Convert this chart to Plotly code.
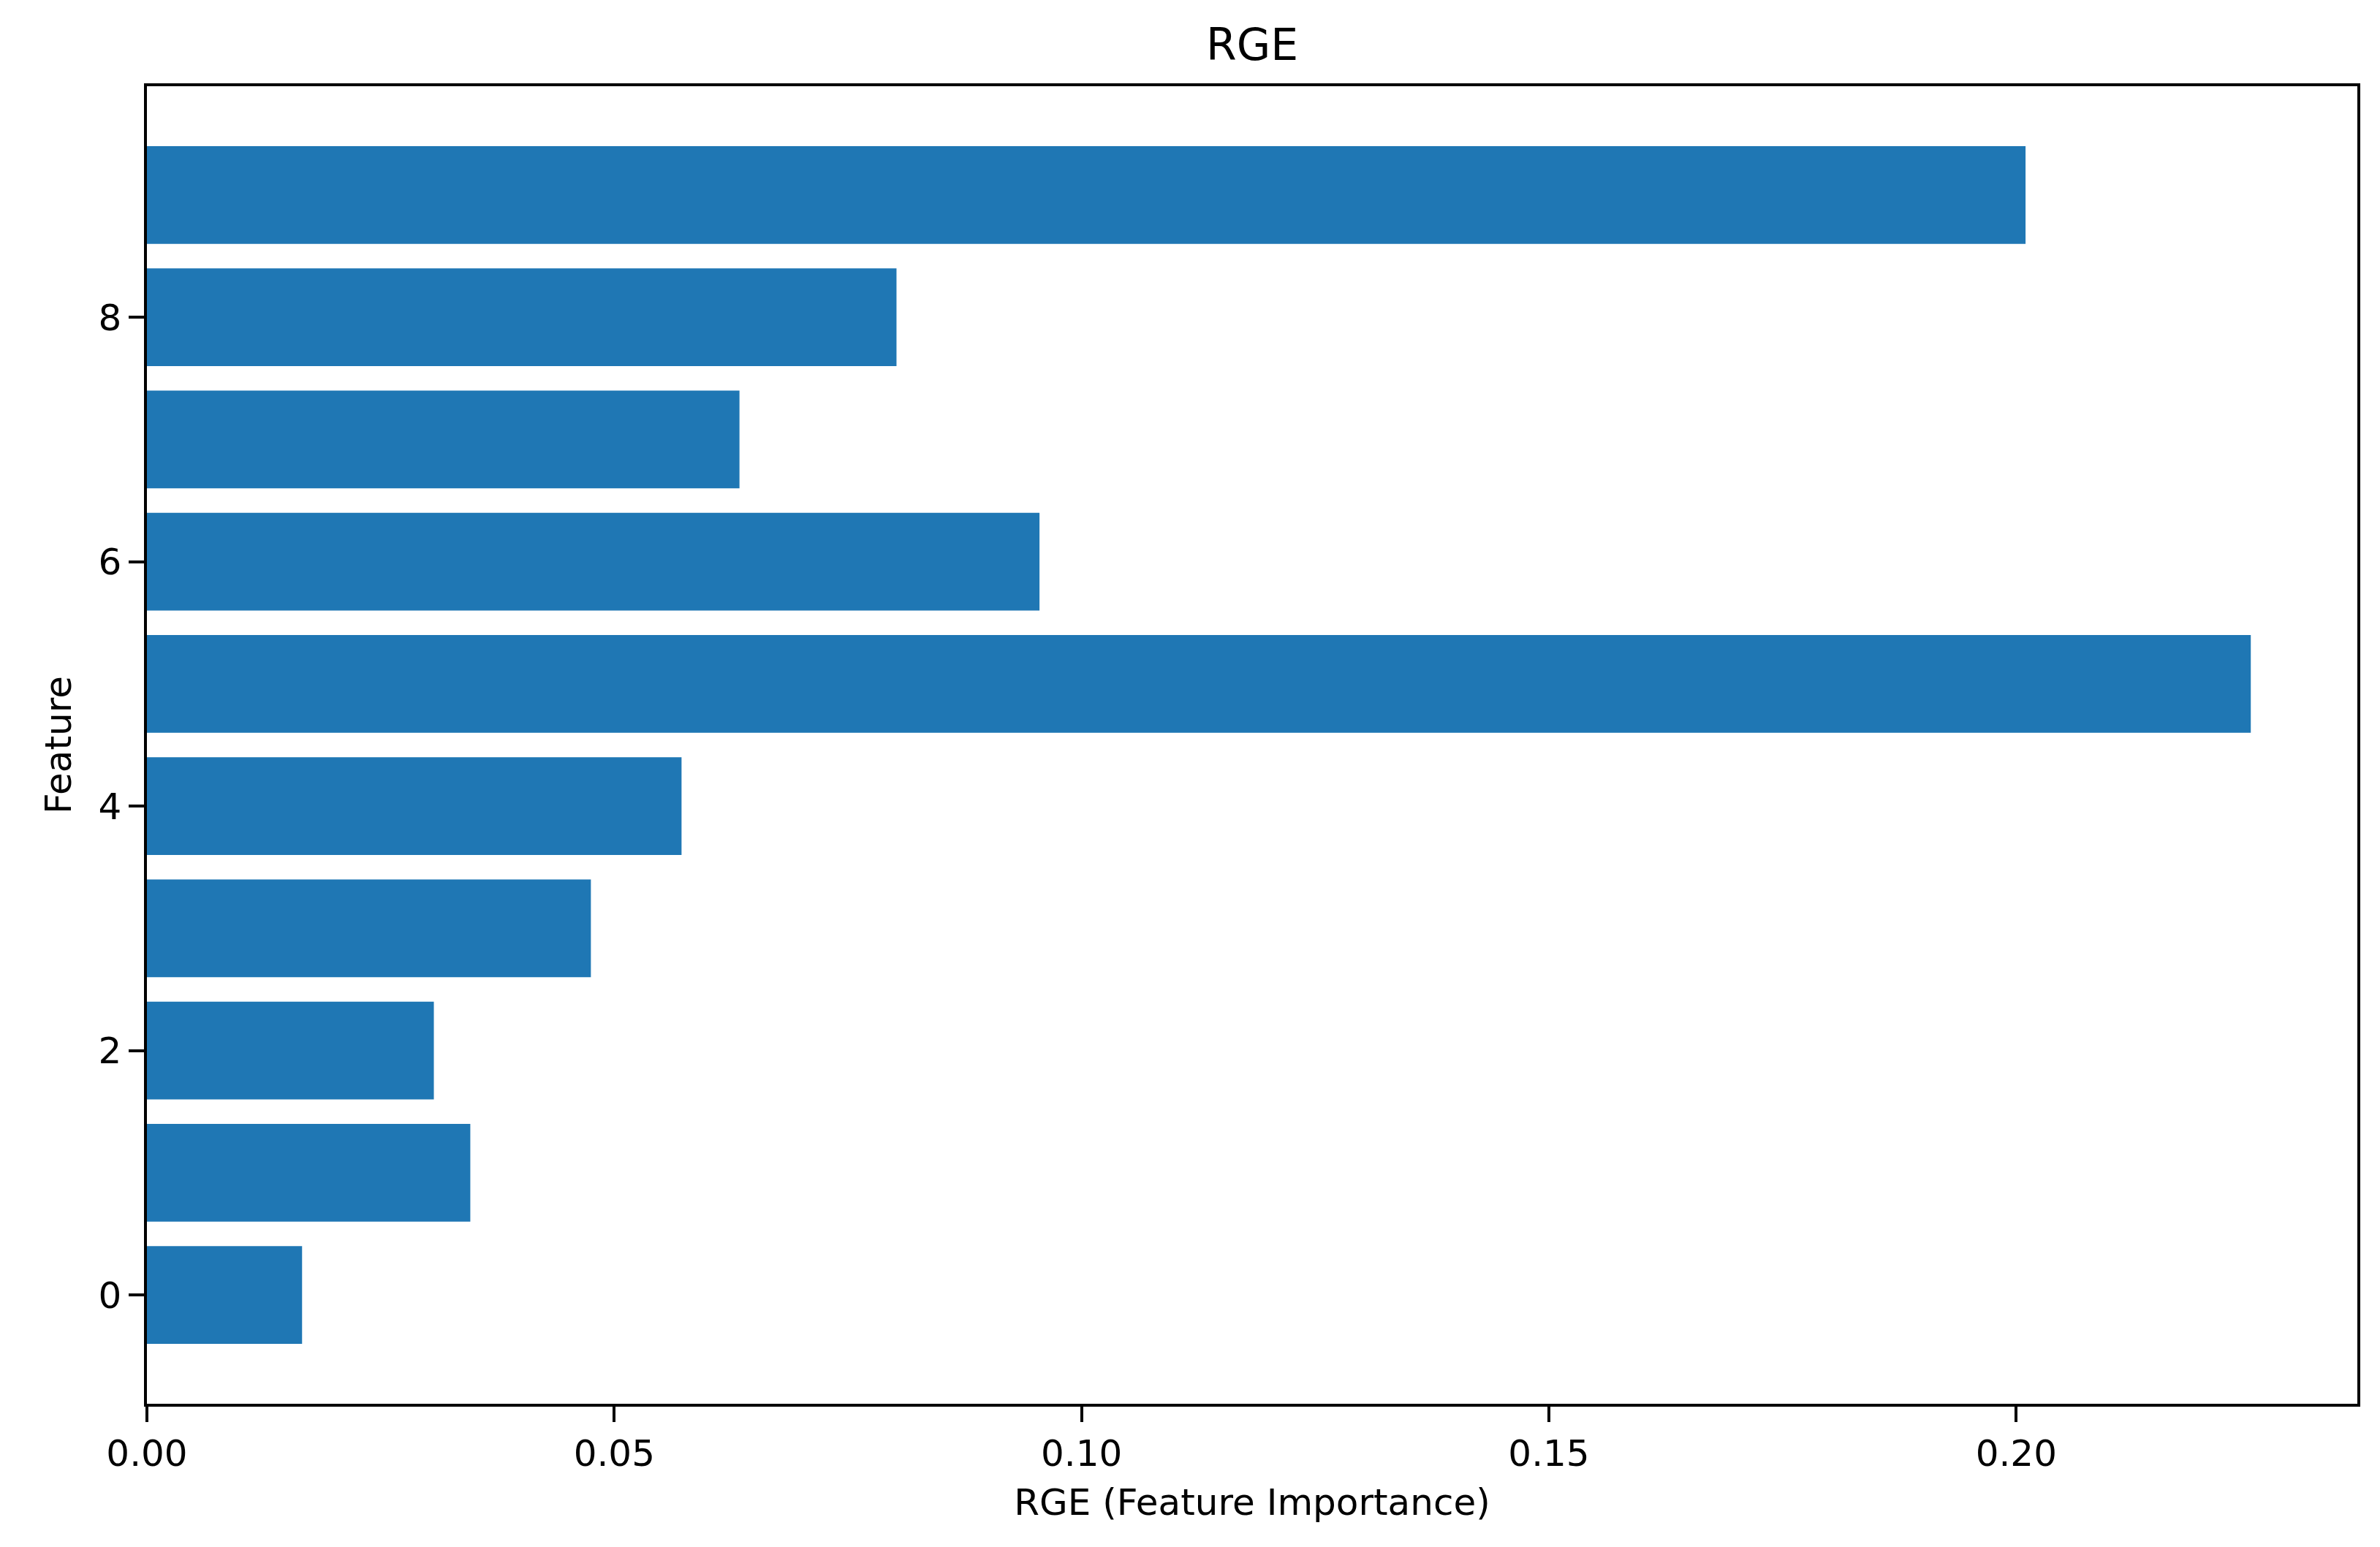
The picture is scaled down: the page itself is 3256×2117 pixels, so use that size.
import plotly.graph_objects as go

features = [0, 1, 2, 3, 4, 5, 6, 7, 8, 9]
importance = [0.0166, 0.0346, 0.0307, 0.0475, 0.0572, 0.2251, 0.0955, 0.0634, 0.0802, 0.2010]
x_ticks = [0.00, 0.05, 0.10, 0.15, 0.20]
y_ticks = [0, 2, 4, 6, 8]

W, H = 3256, 2117
OFF = 8  # default page body margin in the browser
ml, mr, mt, mb = 201 - OFF, 31 + OFF, 118 - OFF, 196 + OFF

fig = go.Figure(go.Bar(
    x=importance, y=features, orientation="h", width=0.8,
    marker=dict(color="#1f77b4", line=dict(width=0)),
))

fig.update_layout(
    width=W, height=H,
    margin=dict(l=ml, r=mr, t=mt, b=mb),
    paper_bgcolor="white", plot_bgcolor="white",
    showlegend=False,
    font=dict(family="DejaVu Sans", size=50, color="black"),
    title=dict(text="RGE", x=0.5, xref="paper", xanchor="center",
               y=1 - (61 - OFF) / H, yanchor="middle", yref="container",
               font=dict(family="DejaVu Sans", size=60, color="black")),
)
fig.update_xaxes(
    range=[0, 0.2365], tickvals=x_ticks, ticktext=[f"{v:.2f}" for v in x_ticks],
    showgrid=False, zeroline=False,
    showline=True, linecolor="black", linewidth=3.5, mirror=True,
    ticks="outside", ticklen=21, tickwidth=3.5, tickcolor="black",
    tickfont=dict(family="DejaVu Sans", size=50, color="black"),
    title=dict(text="RGE (Feature Importance)", standoff=22,
               font=dict(family="DejaVu Sans", size=50, color="black")),
)
fig.update_yaxes(
    range=[-0.89, 9.89], tickvals=y_ticks, ticktext=[str(v) for v in y_ticks],
    showgrid=False, zeroline=False,
    showline=True, linecolor="black", linewidth=3.5, mirror=True,
    ticks="outside", ticklen=21, tickwidth=3.5, tickcolor="black",
    tickfont=dict(family="DejaVu Sans", size=50, color="black"),
    title=dict(text="Feature", standoff=22,
               font=dict(family="DejaVu Sans", size=50, color="black")),
)

fig.write_html("out.html")
